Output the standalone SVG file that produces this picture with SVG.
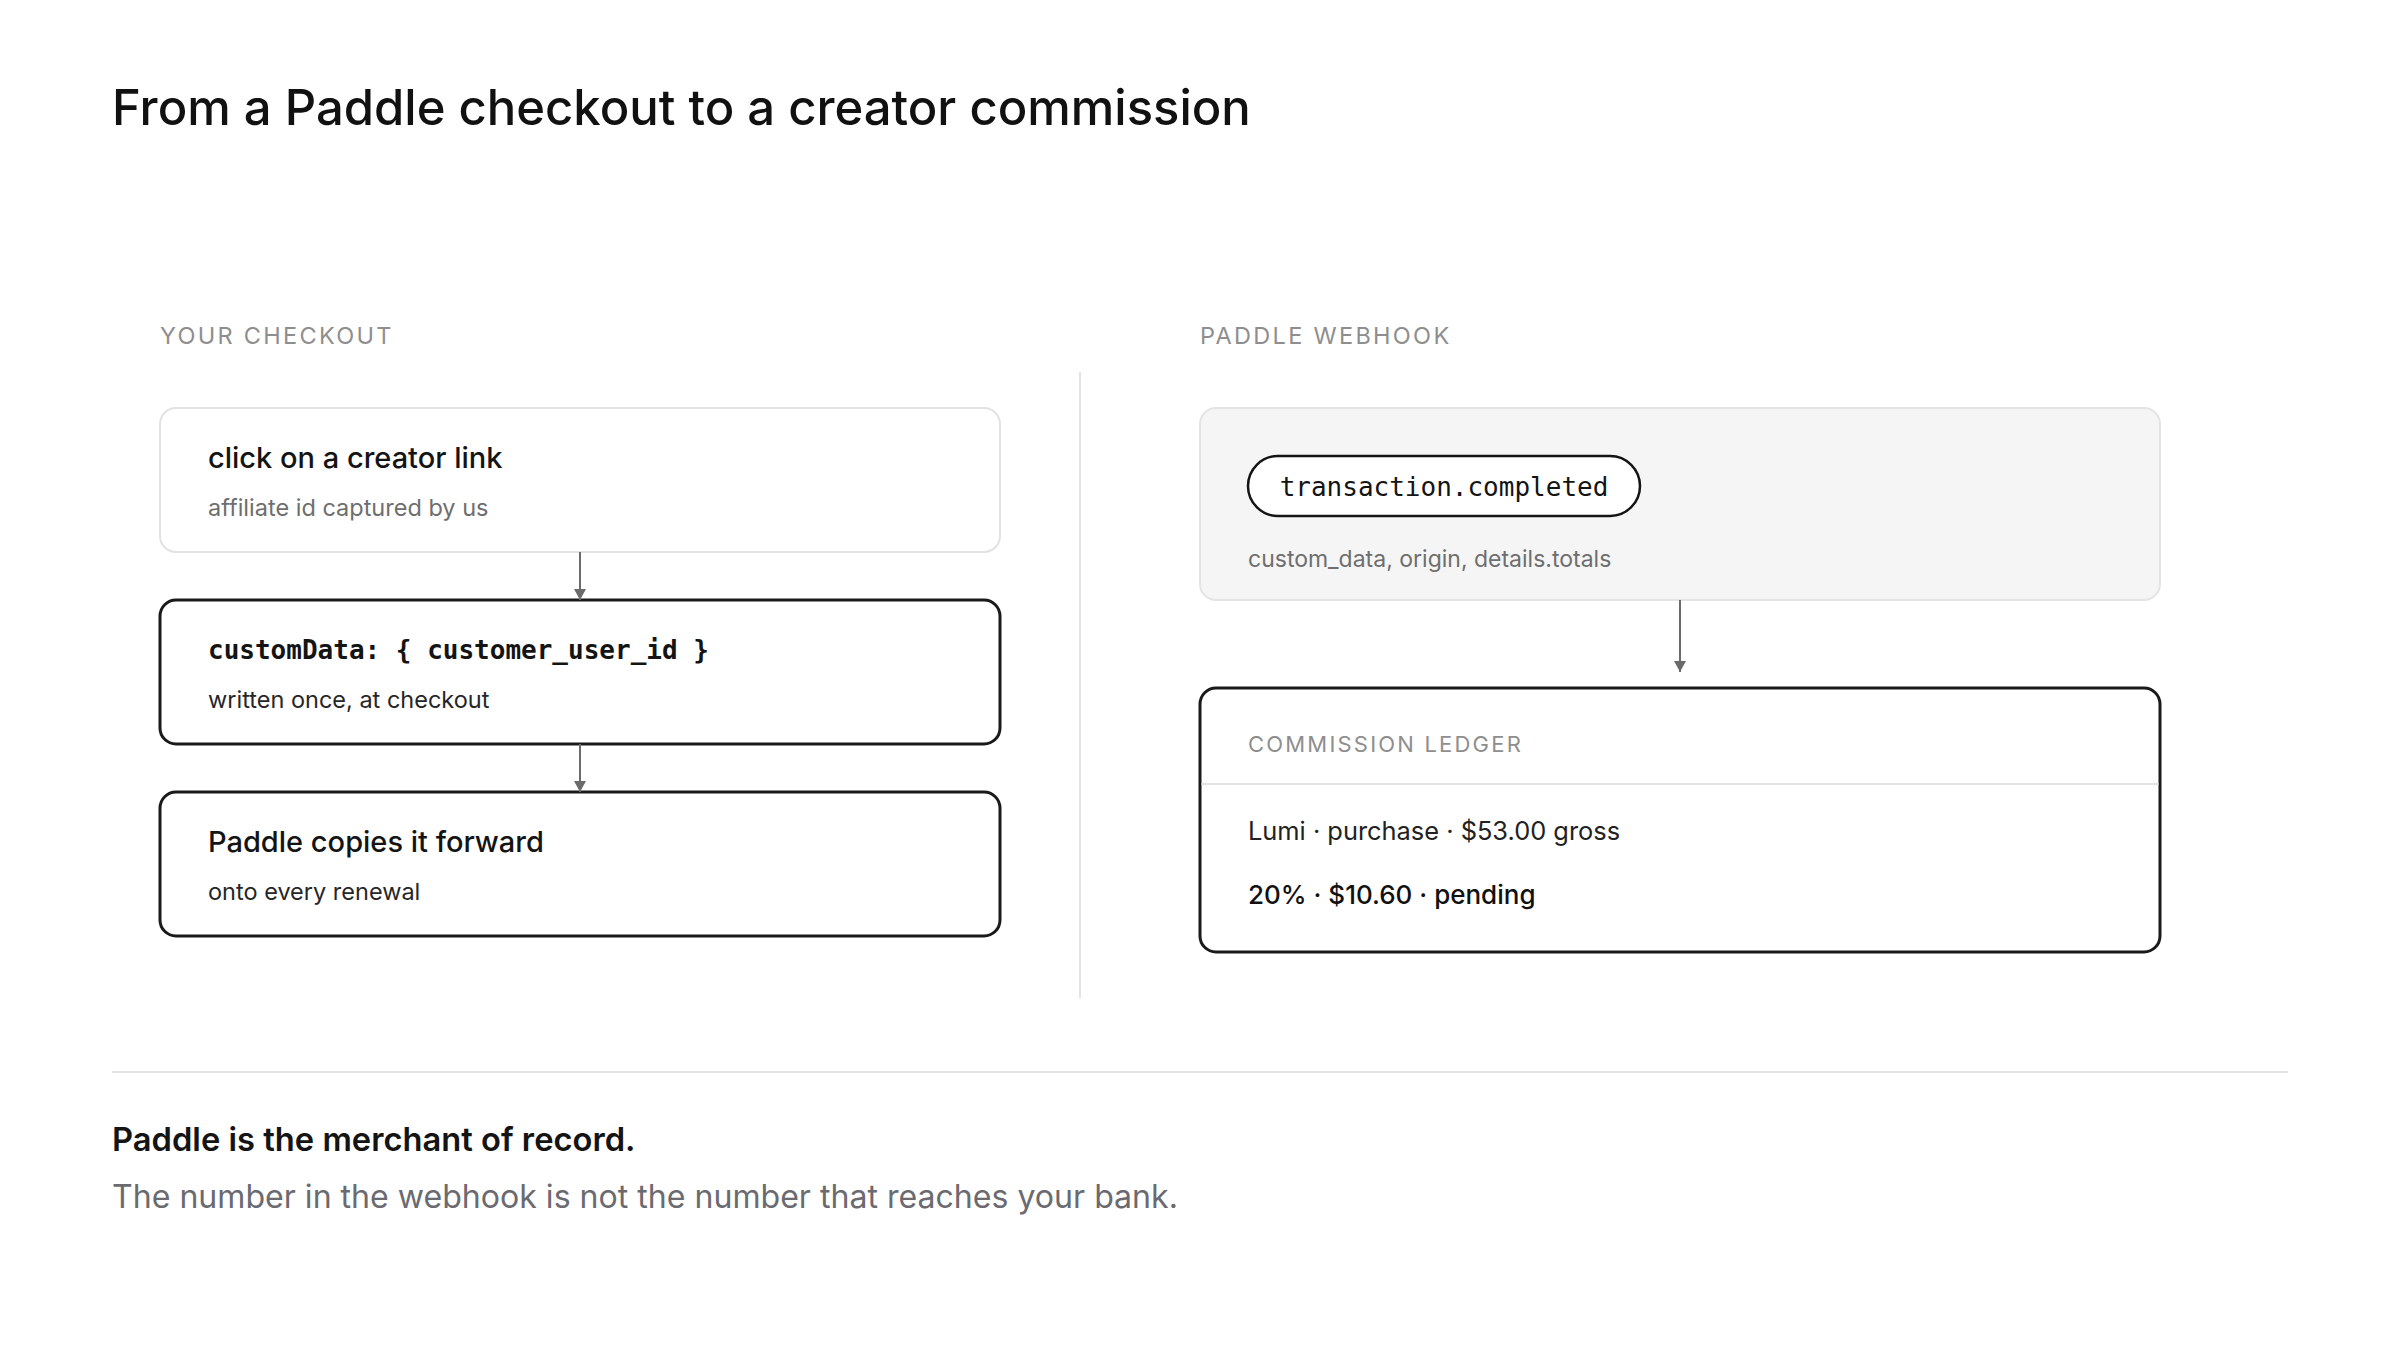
<svg xmlns="http://www.w3.org/2000/svg" width="2400" height="1350" viewBox="0 0 2400 1350">
  <style>
    .sans { font-family: Inter, "Liberation Sans", Arial, sans-serif; }
    .mono { font-family: "DejaVu Sans Mono", "Liberation Mono", monospace; }
    .title { font-size: 49px; font-weight: 500; fill: #111111; }
    .label { font-size: 23.5px; letter-spacing: 2.3px; fill: #8e8e8e; }
    .label-sm { font-size: 22px; letter-spacing: 2.2px; fill: #8e8e8e; }
    .ntitle { font-size: 29px; font-weight: 500; fill: #141414; }
    .nsub { font-size: 23.5px; fill: #262626; }
    .nsub-muted { font-size: 23.5px; fill: #6e6e6e; }
    .nsub-hook { font-size: 23px; fill: #6e6e6e; }
    .code { font-size: 26px; font-weight: 700; fill: #141414; }
    .pilltext { font-size: 26px; fill: #141414; }
    .ledger { font-size: 25.4px; fill: #222222; }
    .ledger-strong { font-size: 26px; font-weight: 500; fill: #111111; }
    .foot1 { font-size: 32.7px; font-weight: 600; fill: #141414; }
    .foot2 { font-size: 32.1px; fill: #6a6a70; }
    .box-light { fill: #ffffff; stroke: #e2e2e2; stroke-width: 2; }
    .box-dark { fill: #ffffff; stroke: #1a1a1a; stroke-width: 3; }
    .box-grey { fill: #f5f5f5; stroke: #e4e4e4; stroke-width: 2; }
    .rule { stroke: #e3e3e3; stroke-width: 2; fill: none; }
    .conn { stroke: #6b6b6b; stroke-width: 2; fill: none; }
  </style>
  <defs>
    <marker id="arrow" markerUnits="userSpaceOnUse" markerWidth="14" markerHeight="14" viewBox="0 0 14 14" refX="12" refY="7" orient="auto">
      <path d="M1,1 L12,7 L1,13 Z" fill="#6b6b6b"/>
    </marker>
  </defs>

  <rect x="0" y="0" width="2400" height="1350" fill="#ffffff"/>

  <g id="heading">
    <text class="sans title" x="112" y="125">From a Paddle checkout to a creator commission</text>
  </g>

  <g id="section-labels">
    <text class="sans label" x="160" y="344">YOUR CHECKOUT</text>
    <text class="sans label" x="1200" y="344">PADDLE WEBHOOK</text>
  </g>

  <g id="dividers">
    <line class="rule" x1="1080" y1="372" x2="1080" y2="998"/>
    <line class="rule" x1="112" y1="1072" x2="2288" y2="1072"/>
  </g>

  <g id="node-creator-link">
    <rect class="box-light" x="160" y="408" width="840" height="144" rx="16"/>
    <text class="sans ntitle" x="208" y="468">click on a creator link</text>
    <text class="sans nsub-muted" x="208" y="516">affiliate id captured by us</text>
  </g>

  <g id="node-custom-data">
    <rect class="box-dark" x="160" y="600" width="840" height="144" rx="16"/>
    <text class="mono code" x="208" y="659">customData: { customer_user_id }</text>
    <text class="sans nsub" x="208" y="708">written once, at checkout</text>
  </g>

  <g id="node-copies-forward">
    <rect class="box-dark" x="160" y="792" width="840" height="144" rx="16"/>
    <text class="sans ntitle" x="208" y="852">Paddle copies it forward</text>
    <text class="sans nsub" x="208" y="900">onto every renewal</text>
  </g>

  <g id="node-webhook">
    <rect class="box-grey" x="1200" y="408" width="960" height="192" rx="16"/>
    <rect x="1248" y="456" width="392" height="60" rx="30" fill="#ffffff" stroke="#141414" stroke-width="2.5"/>
    <text class="mono pilltext" x="1444" y="496" text-anchor="middle">transaction.completed</text>
    <text class="sans nsub-hook" x="1248" y="567">custom_data, origin, details.totals</text>
  </g>

  <g id="node-ledger">
    <rect class="box-dark" x="1200" y="688" width="960" height="264" rx="16"/>
    <text class="sans label-sm" x="1248" y="752">COMMISSION LEDGER</text>
    <line x1="1201.5" y1="784" x2="2158.5" y2="784" stroke="#e2e2e2" stroke-width="2"/>
    <text class="sans ledger" x="1248" y="840">Lumi · purchase · $53.00 gross</text>
    <text class="sans ledger-strong" x="1248" y="904">20% · $10.60 · pending</text>
  </g>

  <g id="connectors">
    <line class="conn" x1="580" y1="552" x2="580" y2="600" marker-end="url(#arrow)"/>
    <line class="conn" x1="580" y1="744" x2="580" y2="792" marker-end="url(#arrow)"/>
    <line class="conn" x1="1680" y1="600" x2="1680" y2="672" marker-end="url(#arrow)"/>
  </g>

  <g id="footer">
    <text class="sans foot1" x="112" y="1151">Paddle is the merchant of record.</text>
    <text class="sans foot2" x="112" y="1208">The number in the webhook is not the number that reaches your bank.</text>
  </g>
</svg>
